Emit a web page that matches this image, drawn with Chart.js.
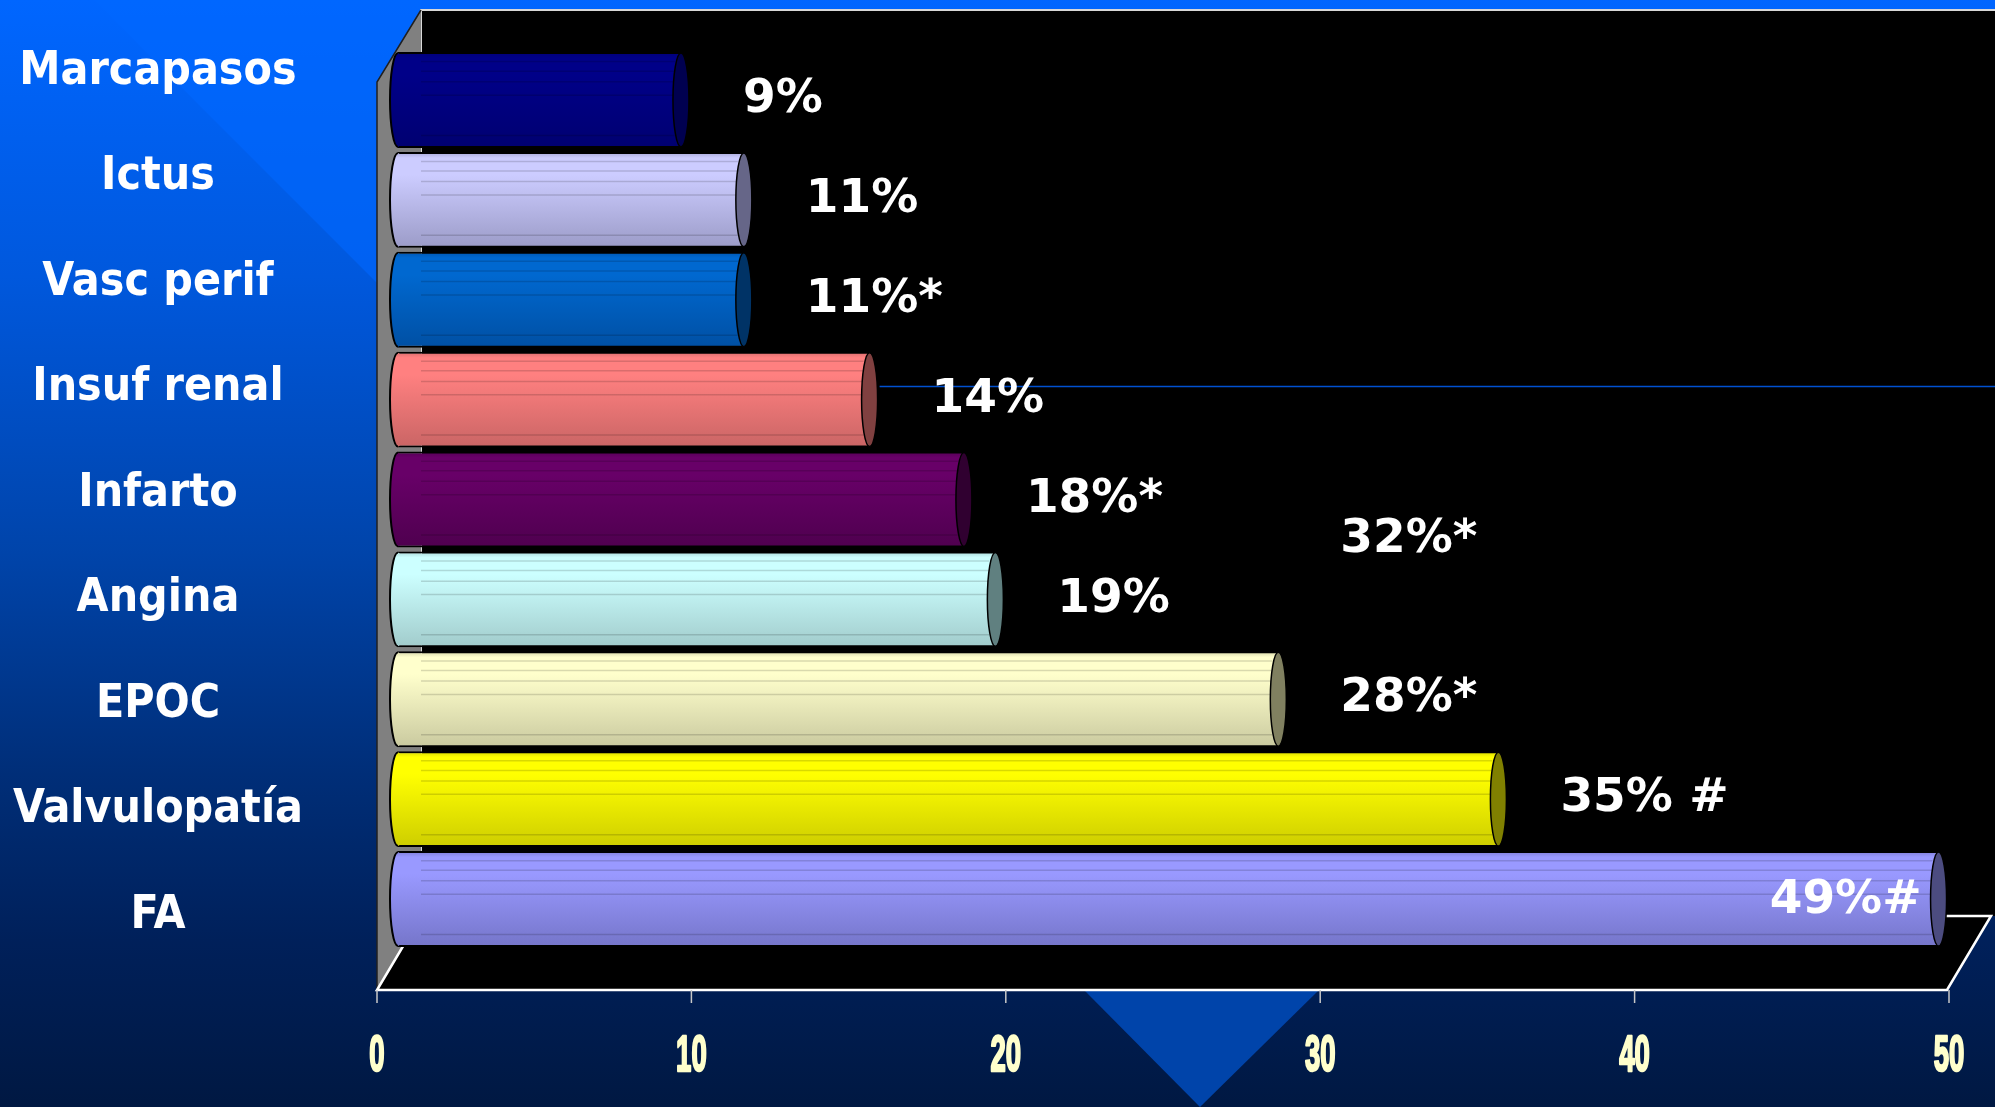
<!DOCTYPE html>
<html lang="es">
<head>
<meta charset="UTF-8">
<title>Comorbilidades</title>
<script src="https://cdn.jsdelivr.net/npm/chart.js"></script>
<style>
  html, body { margin: 0; padding: 0; background: #001845; overflow: hidden; }
  canvas { display: block; }
</style>
</head>
<body>
<canvas id="grafico" width="1995" height="1107"></canvas>

<script>
// Datos
const categorias = ['Marcapasos', 'Ictus', 'Vasc perif', 'Insuf renal', 'Infarto', 'Angina', 'EPOC', 'Valvulopatía', 'FA'];
const valores = [9, 11, 11, 15, 18, 19, 28, 35, 49];
const etiquetas = ['9%', '11%', '11%*', '14%', '18%*', '19%', '28%*', '35% #', '49%#'];
const ticksX = [0, 10, 20, 30, 40, 50];

// texto suelto entre Infarto y Angina (misma columna que 28%*)
const notaTexto = '32%*';
const notaValor = 28;
const notaCategoria = 4.4;

// colores de los cilindros
const colorClaro  = ['#000088', '#CCCCFF', '#0068D0', '#FF8080', '#680068', '#CCFFFF', '#FFFFCC', '#FFFF00', '#9999FF'];
const colorOscuro = ['#000070', '#9A9AC6', '#004FA2', '#C86464', '#4E004E', '#A0CACA', '#C8C89E', '#CCCC00', '#7474C8'];
const colorTapa   = ['#000050', '#666688', '#003366', '#804040', '#300030', '#608080', '#808060', '#808000', '#4C4C80'];

const fuenteCategorias = '"DejaVu Sans Condensed", "DejaVu Sans", sans-serif';
const fuenteValores = '"DejaVu Sans", sans-serif';

function degradado(chart, i) {
    const ys = chart.scales.y;
    if (!chart.chartArea || !ys) return colorClaro[i];
    const c = ys.getPixelForValue(i);
    const h = ys.height / categorias.length / 2;
    const g = chart.ctx.createLinearGradient(0, c - h, 0, c + h);
    g.addColorStop(0, colorOscuro[i]);
    g.addColorStop(0.08, colorClaro[i]);
    g.addColorStop(0.25, colorClaro[i]);
    g.addColorStop(1, colorOscuro[i]);
    return g;
}

// fondo de la diapositiva y caja 3D
const marco3d = {
    id: 'marco3d',
    beforeDraw(chart) {
        const { ctx, width, height, chartArea: a } = chart;
        ctx.save();

        const fondo = ctx.createLinearGradient(0, 0, 0, height);
        fondo.addColorStop(0, '#0066FF');
        fondo.addColorStop(0.25, '#0058DD');
        fondo.addColorStop(0.5, '#0044AA');
        fondo.addColorStop(0.7, '#002E78');
        fondo.addColorStop(0.85, '#00205A');
        fondo.addColorStop(1, '#001842');
        ctx.fillStyle = fondo;
        ctx.fillRect(0, 0, width, height);

        // cuña clara arriba a la izquierda
        ctx.fillStyle = 'rgba(0, 104, 255, 0.6)';
        ctx.beginPath();
        ctx.moveTo(94, 0); ctx.lineTo(a.left + 23, 0); ctx.lineTo(a.left + 23, 327);
        ctx.closePath(); ctx.fill();

        // triángulo decorativo abajo
        ctx.fillStyle = '#0044AA';
        ctx.beginPath();
        ctx.moveTo(1085, a.bottom + 42); ctx.lineTo(1318, a.bottom + 42); ctx.lineTo(1200, height);
        ctx.closePath(); ctx.fill();

        const fx = a.left - 21, bx = a.left + 23;
        const yArribaFondo = a.top - 40, yArribaFrente = a.top + 32;
        const ySueloFrente = a.bottom + 41, ySueloFondo = a.bottom - 33;
        const dxFrente = a.right - 23, dxFondo = a.right + 21;

        // pared del fondo
        ctx.fillStyle = '#000';
        ctx.fillRect(bx, yArribaFondo, width - bx, ySueloFondo - yArribaFondo);
        ctx.strokeStyle = '#D8D8D8';
        ctx.lineWidth = 2;
        ctx.beginPath();
        ctx.moveTo(bx, ySueloFondo); ctx.lineTo(bx, yArribaFondo); ctx.lineTo(width, yArribaFondo);
        ctx.stroke();

        // pared izquierda
        ctx.fillStyle = '#808080';
        ctx.beginPath();
        ctx.moveTo(fx, yArribaFrente); ctx.lineTo(bx, yArribaFondo);
        ctx.lineTo(bx, ySueloFondo); ctx.lineTo(fx, ySueloFrente);
        ctx.closePath(); ctx.fill();
        ctx.strokeStyle = '#202020';
        ctx.lineWidth = 1.5;
        ctx.beginPath();
        ctx.moveTo(fx, ySueloFrente); ctx.lineTo(fx, yArribaFrente); ctx.lineTo(bx, yArribaFondo);
        ctx.stroke();

        // suelo
        ctx.fillStyle = '#000';
        ctx.beginPath();
        ctx.moveTo(fx, ySueloFrente); ctx.lineTo(bx, ySueloFondo);
        ctx.lineTo(dxFondo, ySueloFondo); ctx.lineTo(dxFrente, ySueloFrente);
        ctx.closePath(); ctx.fill();
        ctx.strokeStyle = '#FFFFFF';
        ctx.lineWidth = 2.5;
        ctx.beginPath();
        ctx.moveTo(bx, ySueloFondo); ctx.lineTo(fx, ySueloFrente);
        ctx.lineTo(dxFrente, ySueloFrente); ctx.lineTo(dxFondo, ySueloFondo);
        ctx.lineTo(bx, ySueloFondo);
        ctx.stroke();

        // marcas del eje
        const xs = chart.scales.x;
        ctx.strokeStyle = '#C8C8C8';
        ctx.lineWidth = 1.5;
        xs.ticks.forEach(t => {
            const x = xs.getPixelForValue(t.value) - 21;
            ctx.beginPath();
            ctx.moveTo(x, ySueloFrente); ctx.lineTo(x, ySueloFrente + 13);
            ctx.stroke();
        });
        ctx.restore();
    },
    afterDatasetsDraw(chart) {
        const { ctx, width, chartArea: a } = chart;
        const barras = chart.getDatasetMeta(0).data;
        ctx.save();
        barras.forEach((bar, i) => {
            const h = bar.height;
            const arriba = bar.y - h / 2;

            // franjas finas
            ctx.strokeStyle = 'rgba(0, 0, 0, 0.15)';
            ctx.lineWidth = 1.5;
            [0.1, 0.2, 0.31, 0.45, 0.87].forEach(f => {
                ctx.beginPath();
                ctx.moveTo(a.left + 23, arriba + f * h);
                ctx.lineTo(bar.x - 6, arriba + f * h);
                ctx.stroke();
            });

            // extremo izquierdo redondeado
            ctx.beginPath();
            ctx.ellipse(bar.base, bar.y, 8, h / 2 - 1, 0, 0, Math.PI * 2);
            ctx.fillStyle = degradado(chart, i);
            ctx.fill();
            ctx.beginPath();
            ctx.ellipse(bar.base, bar.y, 8, h / 2 - 1, 0, Math.PI / 2, Math.PI * 1.5);
            ctx.strokeStyle = '#000';
            ctx.lineWidth = 2;
            ctx.stroke();

            // tapa derecha
            ctx.beginPath();
            ctx.ellipse(bar.x, bar.y, 8, h / 2 - 1, 0, 0, Math.PI * 2);
            ctx.fillStyle = colorTapa[i];
            ctx.fill();
            ctx.lineWidth = 1.5;
            ctx.stroke();
        });

        // línea azul suelta que sale de Insuf renal
        const br = barras[3];
        ctx.strokeStyle = '#0050D0';
        ctx.lineWidth = 1.5;
        ctx.beginPath();
        ctx.moveTo(br.x + 10, br.y - 13); ctx.lineTo(width, br.y - 13);
        ctx.stroke();

        // etiquetas de valor
        ctx.font = 'bold 47px ' + fuenteValores;
        ctx.fillStyle = '#FFFFFF';
        ctx.textBaseline = 'middle';
        barras.forEach((bar, i) => {
            const w = ctx.measureText(etiquetas[i]).width;
            if (bar.x + 62 + w > width - 8) {
                ctx.textAlign = 'right';
                ctx.fillText(etiquetas[i], bar.x - 17, bar.y + 2);
            } else {
                ctx.textAlign = 'left';
                ctx.fillText(etiquetas[i], bar.x + 62, bar.y);
            }
        });
        ctx.textAlign = 'left';
        ctx.fillText(notaTexto, chart.scales.x.getPixelForValue(notaValor) + 62,
            chart.scales.y.getPixelForValue(notaCategoria));
        ctx.restore();
    },
    afterDraw(chart) {
        // números del eje x, estrechos y altos como en la diapositiva
        const { ctx, chartArea: a } = chart;
        const xs = chart.scales.x;
        ctx.save();
        ctx.font = 'bold 50px "Liberation Sans", sans-serif';
        ctx.fillStyle = '#FFFFCC';
        ctx.strokeStyle = '#FFFFCC';
        ctx.lineWidth = 2.5;
        ctx.lineJoin = 'round';
        ctx.textAlign = 'center';
        ctx.textBaseline = 'alphabetic';
        xs.ticks.forEach(t => {
            const x = xs.getPixelForValue(t.value) - 21;
            ctx.save();
            ctx.translate(x, a.bottom + 122);
            ctx.scale(0.55, 1);
            ctx.fillText(String(t.value), 0, 0);
            ctx.strokeText(String(t.value), 0, 0);
            ctx.restore();
        });
        ctx.restore();
    }
};

new Chart(document.getElementById('grafico'), {
    type: 'bar',
    data: {
        labels: categorias,
        datasets: [{
            data: valores,
            yAxisID: 'y',
            backgroundColor: c => degradado(c.chart, c.dataIndex),
            borderColor: '#000',
            borderWidth: 2,
            barPercentage: 0.96,
            categoryPercentage: 1
        }]
    },
    options: {
        indexAxis: 'y',
        responsive: false,
        animation: false,
        devicePixelRatio: 1,
        layout: { padding: { top: 50, right: 25, left: 0, bottom: 0 } },
        plugins: {
            legend: { display: false },
            tooltip: { enabled: false },
            title: { display: false }
        },
        scales: {
            x: {
                type: 'linear',
                min: 0,
                max: 50,
                afterBuildTicks: s => { s.ticks = ticksX.map(v => ({ value: v })); },
                afterFit: s => { s.height = 158; },
                grid: { display: false },
                border: { display: false },
                ticks: { display: false }
            },
            y: {
                type: 'category',
                display: false,
                offset: true
            },
            yl: {
                type: 'linear',
                axis: 'y',
                position: 'left',
                reverse: true,
                offset: false,
                min: -0.205,
                max: 8.316,
                afterBuildTicks: s => { s.ticks = categorias.map((c, i) => ({ value: i })); },
                afterFit: s => { s.width = 398; },
                grid: { display: true, offset: false, drawOnChartArea: false, drawTicks: true, tickLength: 95, color: 'rgba(0,0,0,0)' },
                border: { display: false },
                ticks: {
                    autoSkip: false,
                    crossAlign: 'center',
                    padding: 0,
                    color: '#FFFFFF',
                    callback: v => categorias[v],
                    font: { family: fuenteCategorias, weight: 'bold', size: 46 }
                }
            }
        }
    },
    plugins: [marco3d]
});
</script>

</body>
</html>
